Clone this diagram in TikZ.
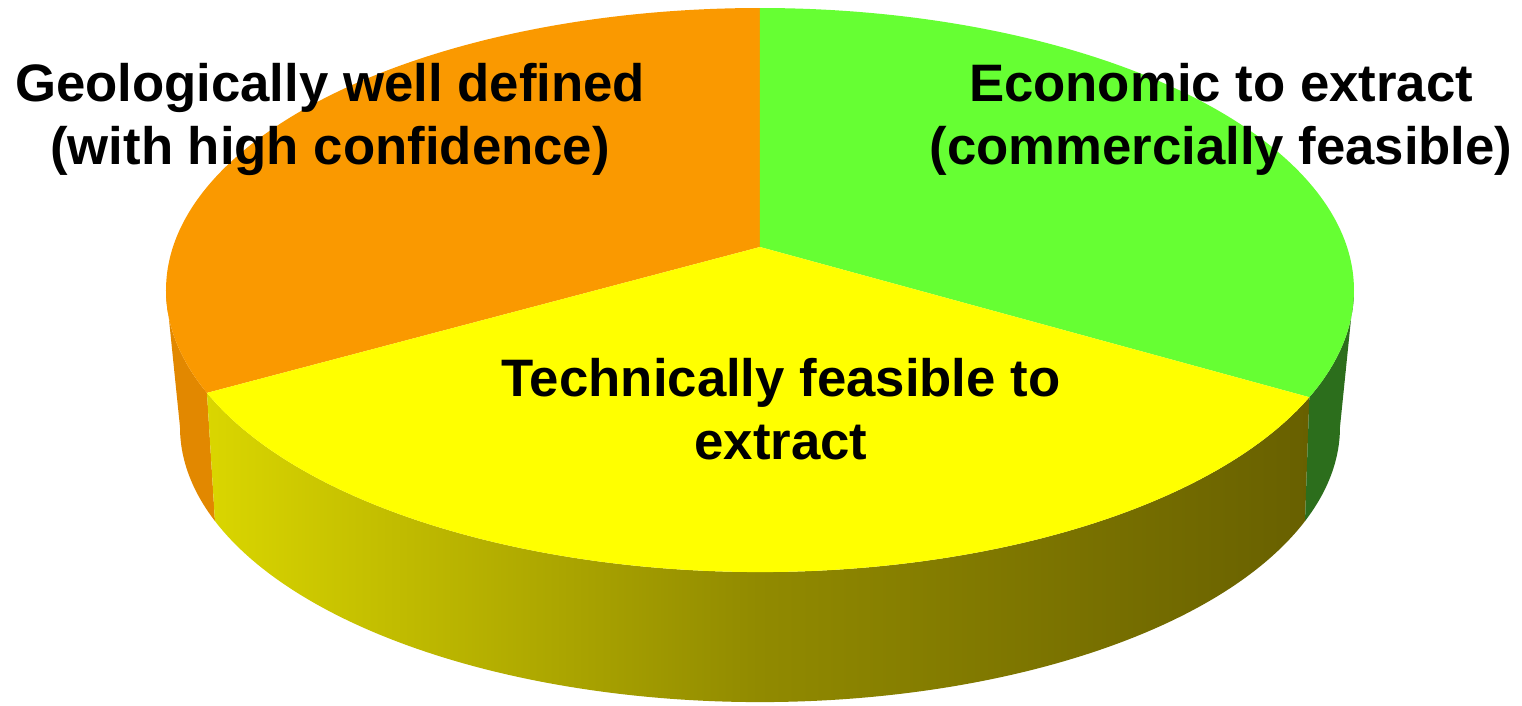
\documentclass[tikz,border=0pt]{standalone}
\usepackage{fontspec}
\setmainfont{Liberation Sans}
\usepackage{tikz}
\usetikzlibrary{arrows,shapes}
\definecolor{orangetop}{RGB}{250,153,0}
\definecolor{orangeside}{RGB}{226,136,0}
\definecolor{greentop}{RGB}{102,255,51}
\definecolor{greenside}{RGB}{44,110,28}
\definecolor{yellowtop}{RGB}{255,255,0}
\definecolor{yellowleft}{RGB}{218,214,0}
\definecolor{yellowmid}{RGB}{145,138,0}
\definecolor{yellowright}{RGB}{104,96,0}
\tikzstyle{slicetext} = [font=\fontsize{30}{35.8}\selectfont\bfseries, align=center,
    text=black, inner sep=0pt]
\tikzstyle{toparc} = [x radius=11.88, y radius=5.64]
\tikzstyle{basearc} = [x radius=11.6, y radius=5.5]

\begin{document}
\begin{tikzpicture}
  \useasboundingbox (-15.2,-8.3) rectangle (15.24,5.8);
  \coordinate (mid) at (0,0.86);
  \coordinate (base) at (0,-2.74);
  % side wall
  \fill[orangeside] (180:11.88 and 5.64) arc[toparc, start angle=180, end angle=201.4]
    -- ([shift={(base)}]200:11.6 and 5.5) arc[basearc, start angle=200, end angle=180] -- cycle;
  \shade[left color=yellowleft, right color=yellowright, middle color=yellowmid]
    (201.4:11.88 and 5.64) arc[toparc, start angle=201.4, end angle=337.65]
    -- ([shift={(base)}]340:11.6 and 5.5) arc[basearc, start angle=340, end angle=200] -- cycle;
  \fill[greenside] (337.65:11.88 and 5.64) arc[toparc, start angle=337.65, end angle=360]
    -- ([shift={(base)}]0:11.6 and 5.5) arc[basearc, start angle=360, end angle=340] -- cycle;
  % top slices
  \fill[orangetop] (mid) -- (90:11.88 and 5.64) arc[toparc, start angle=90, end angle=201.4] -- cycle;
  \fill[greentop] (mid) -- (90:11.88 and 5.64) arc[toparc, start angle=90, end angle=-22.35] -- cycle;
  \fill[yellowtop] (mid) -- (201.4:11.88 and 5.64) arc[toparc, start angle=201.4, end angle=337.65] -- cycle;
  % labels
  \node[slicetext] (geo) at (-8.6,3.41) {Geologically well defined\\(with high confidence)};
  \node[slicetext] (eco) at (9.22,3.41) {Economic to extract\\(commercially feasible)};
  \node[slicetext] (tech) at (0.42,-2.38) {Technically feasible to\\extract};
\end{tikzpicture}
\end{document}
